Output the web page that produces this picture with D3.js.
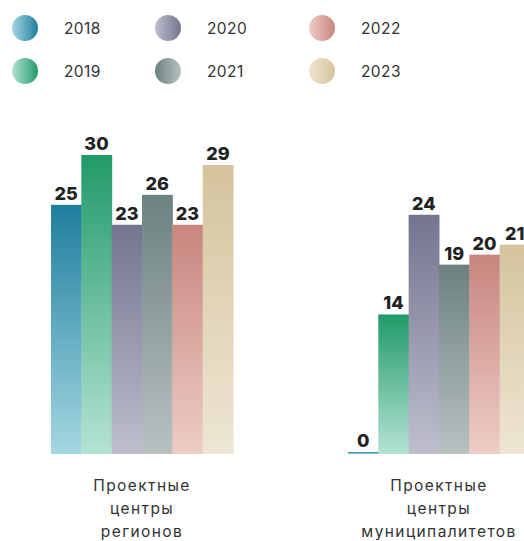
<!DOCTYPE html>
<html>
<head>
<meta charset="UTF-8">
<script src="https://d3js.org/d3.v7.min.js"></script>
<style>
  body { margin: 0; background: #fff; }
  svg { display: block; font-family: Inter, "Open Sans", sans-serif; }
</style>
</head>
<body>
<div id="chart"></div>
<script>
// data
var years = ["2018", "2019", "2020", "2021", "2022", "2023"];
var categories = ["regions", "municipal"];
var categoryLabels = [["Проектные", "центры", "регионов"], ["Проектные", "центры", "муниципалитетов"]];
var valuesRegions = [25, 30, 23, 26, 23, 29];
var valuesMunicipal = [0, 14, 24, 19, 20, 21];
var topColors = ["#1f7e9e", "#219a69", "#737590", "#6c8181", "#c8857f", "#d5c39d"];
var bottomColors = ["#a4d7e1", "#b5e3d3", "#bebecd", "#b9c1c1", "#edcdc5", "#eee6d3"];

var width = 524, height = 541;
var svg = d3.select("#chart").append("svg")
  .attr("width", width)
  .attr("height", height);

var defs = svg.append("defs");
years.forEach(function(yr, i) {
  var g = defs.append("linearGradient")
    .attr("id", "bar" + i)
    .attr("x1", 0).attr("y1", 0).attr("x2", 0).attr("y2", 1);
  g.append("stop").attr("offset", "0%").attr("stop-color", topColors[i]);
  g.append("stop").attr("offset", "100%").attr("stop-color", bottomColors[i]);

  // legend circles: horizontal, 2021 goes the other way
  var lg = defs.append("linearGradient")
    .attr("id", "leg" + i)
    .attr("x1", 0).attr("y1", 0).attr("x2", 1).attr("y2", 0);
  var a = i == 3 ? topColors[i] : bottomColors[i];
  var b = i == 3 ? bottomColors[i] : topColors[i];
  lg.append("stop").attr("offset", "0%").attr("stop-color", a);
  lg.append("stop").attr("offset", "100%").attr("stop-color", b);
});

// legend
var legCols = [25, 168, 322];
var legRows = [28, 71];
var legend = svg.append("g");
years.forEach(function(yr, i) {
  var cx = legCols[Math.floor(i / 2)];
  var cy = legRows[i % 2];
  legend.append("circle")
    .attr("cx", cx).attr("cy", cy).attr("r", 13)
    .attr("fill", "url(#leg" + i + ")");
  legend.append("text")
    .attr("x", cx + 39).attr("y", cy)
    .attr("dy", "0.36em")
    .attr("font-size", 15.5)
    .attr("letter-spacing", "0.4px")
    .attr("fill", "#333")
    .text(yr);
});

// scales
var x0 = d3.scaleBand().domain(categories).range([51, 530]).paddingInner(0.387);
var x1 = d3.scaleBand().domain(years).range([0, x0.bandwidth()]);
var y = d3.scaleLinear().domain([0, 30]).range([454, 155]);

var series = [valuesRegions, valuesMunicipal];

categories.forEach(function(cat, ci) {
  var grp = svg.append("g").attr("transform", "translate(" + x0(cat) + ",0)");
  var rows = years.map(function(yr, i) { return { year: yr, i: i, v: series[ci][i] }; });

  grp.selectAll("rect").data(rows).enter().append("rect")
    .attr("x", function(d) { return x1(d.year); })
    .attr("width", x1.bandwidth() + 0.5)
    .attr("y", function(d) { return Math.min(y(d.v), y(0) - 2); })
    .attr("height", function(d) { return Math.max(y(0) - y(d.v), 2); })
    .attr("fill", function(d) { return "url(#bar" + d.i + ")"; });

  grp.selectAll("text.val").data(rows).enter().append("text")
    .attr("class", "val")
    .attr("x", function(d) { return x1(d.year) + x1.bandwidth() / 2; })
    .attr("y", function(d) { return Math.min(y(d.v), y(0) - 2) - 5; })
    .attr("text-anchor", "middle")
    .attr("font-size", 18)
    .attr("font-weight", 800)
    .attr("fill", "#222")
    .text(function(d) { return d.v; });

  var lbl = grp.append("text")
    .attr("x", x0.bandwidth() / 2)
    .attr("y", 491)
    .attr("text-anchor", "middle")
    .attr("font-size", 15.5)
    .attr("fill", "#333")
    .attr("letter-spacing", "1.4px");
  categoryLabels[ci].forEach(function(line, li) {
    lbl.append("tspan")
      .attr("x", x0.bandwidth() / 2)
      .attr("dy", li == 0 ? 0 : 23)
      .text(line);
  });
});
</script>
</body>
</html>
